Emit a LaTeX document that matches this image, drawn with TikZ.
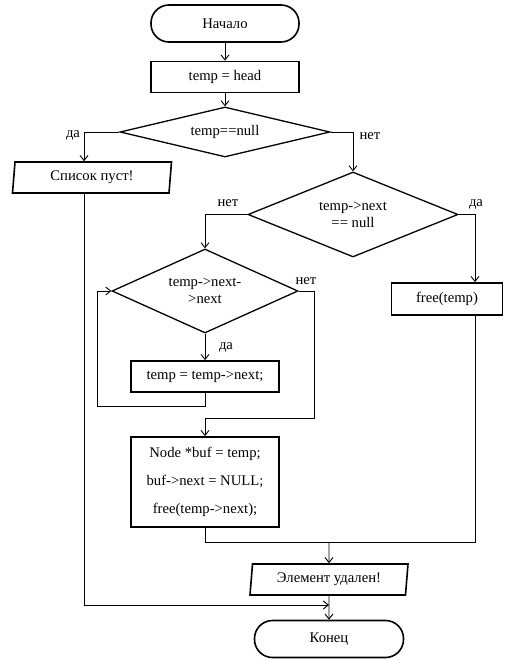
\documentclass[tikz,border=0pt]{standalone}
\usepackage{fontspec}
\setmainfont{Liberation Serif}
\usetikzlibrary{shapes.geometric,arrows.meta}

\begin{document}
\begin{tikzpicture}[x=1pt,y=-1pt,
    every node/.style={font=\fontsize{14.67}{17}\selectfont},
    term/.style={draw,line width=1.6pt,rounded corners=18pt,minimum width=148pt,minimum height=37pt},
    proc/.style={draw,line width=1.8pt,minimum height=31pt,inner sep=0pt,align=center},
    cond/.style={draw,diamond,aspect=2,line width=1.3pt,inner sep=0pt,align=center},
    io/.style={draw,trapezium,trapezium left angle=79,trapezium right angle=101,
      trapezium stretches body,line width=1.6pt,minimum height=31pt,inner sep=0pt},
    line/.style={line width=0.9pt},
    arr/.style={line,-{Straight Barb[length=5pt,width=8pt]}}]
        \useasboundingbox (0,0) rectangle (504,661);
        % 开始
        \node[term] (start) at (225,23.5) {Начало};
        \node[proc,minimum width=148pt] (init) at (225,77) {temp = head};
        % 判断
        \node[cond,minimum width=210pt,minimum height=50pt] (d1) at (225,132) {temp==null};
        \node[io,minimum width=159pt] (out1) at (92,177.5) {Список пуст!};
        \node[cond,minimum width=210pt,minimum height=85pt] (d2) at (353,214.5) {temp->next\\== null};
        \node[cond,minimum width=186pt,minimum height=84pt] (d3) at (205,291) {temp->next-\\>next};
        % 处理
        \node[proc,minimum width=148pt] (move) at (205,376.5) {temp = temp->next;};
        \node[proc,minimum width=148pt,minimum height=90pt,font=\fontsize{14.67}{28}\selectfont] (cut) at (205,482)
          {Node *buf = temp;\\buf->next = NULL;\\free(temp->next);};
        \node[proc,minimum width=111pt,minimum height=32pt] (fr) at (447,299) {free(temp)};
        % 结束
        \node[io,minimum width=158pt] (out2) at (329,579.5) {Элемент удален!};
        \node[term,minimum width=149pt] (stop) at (329,639) {Конец};
        % 标号
        \node (yes1) at (73,135) {да};
        \node (no1) at (370,136) {нет};
        \node (no2) at (228,203) {нет};
        \node (yes2) at (476,204) {да};
        \node (no3) at (306,281) {нет};
        \node (yes3) at (226,347) {да};
        % 拐点
        \coordinate (l1) at (97,406);
        \coordinate (l2) at (314,418);
        \coordinate (j1) at (329,542);
        \coordinate (j2) at (329,605);
        % 连线
        \draw[arr] (start) -- (init);
        \draw[arr] (init) -- (d1);
        \draw[arr] (d1.west) -| ([xshift=-8pt]out1.north);
        \draw[arr] (d1.east) -| (d2.north);
        \draw[arr] (d2.west) -| (d3.north);
        \draw[arr] (d2.east) -| ([xshift=28pt]fr.north);
        \draw[arr] (d3.south) -- (move.north);
        \draw[arr] (move.south) |- (l1) |- (d3.west);
        \draw[arr] (d3.east) -| (l2) -| (cut.north);
        \draw[line] (cut.south) |- (j1);
        \draw[line] ([xshift=28pt]fr.south) |- (j1);
        \draw[arr] (j1) -- (out2.north);
        \draw[arr] ([xshift=-8pt]out1.south) |- (j2);
        \draw[arr] (out2.south) -- (stop.north);
      \end{tikzpicture}
\end{document}
